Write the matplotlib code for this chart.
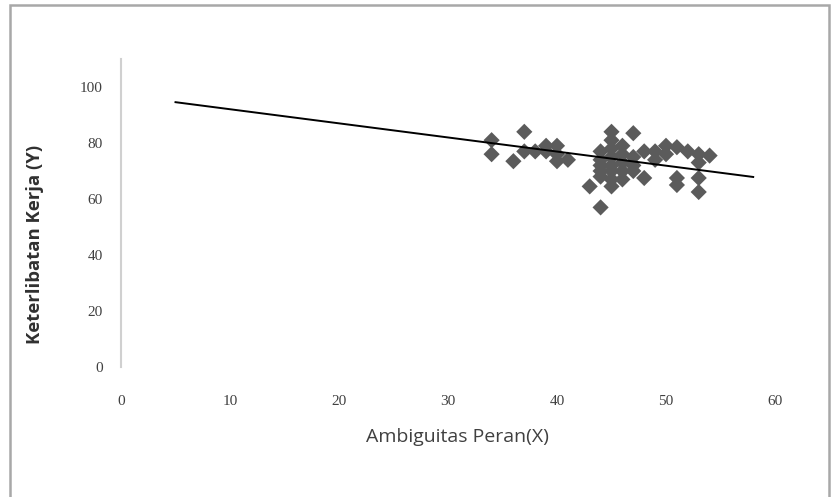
import matplotlib
matplotlib.use("Agg")
import matplotlib.pyplot as plt
import numpy as np
from matplotlib.patches import Rectangle

# Data: Ambiguitas Peran (X) vs Keterlibatan Kerja (Y)
x_values = [34, 34, 36, 37, 37, 38, 39, 39, 40, 40, 40, 41, 43,
            44, 44, 44, 44, 44, 44,
            45, 45, 45, 45, 45, 45, 45, 45,
            46, 46, 46, 46, 46,
            47, 47, 47, 47,
            48, 48, 49, 49, 50, 50,
            51, 51, 51, 52, 53, 53, 53, 53, 54]
y_values = [81, 76, 73.5, 84, 77, 77, 79, 77, 79, 76, 73.5, 74, 64.5,
            57, 77, 74, 72, 70, 68,
            84, 81, 78, 75, 72, 70, 67, 64.5,
            79, 76, 73, 70, 67,
            83.5, 75, 72, 70,
            77, 67.5, 77, 74, 79, 76,
            78.5, 67.5, 65, 77, 76, 73, 67.5, 62.5, 75.5]

# Linear trendline (as displayed)
trend_intercept = 97.1
trend_slope = -0.504
trend_x_range = [5, 58]

x_ticks = [0, 10, 20, 30, 40, 50, 60]
y_ticks = [0, 20, 40, 60, 80, 100]
x_label = "Ambiguitas Peran(X)"
y_label = "Keterlibatan Kerja (Y)"

fig = plt.figure(figsize=(8.31, 4.97), dpi=100)
ax = fig.add_axes([121/831, 1-367/497, (775-121)/831, (367-59)/497])

ax.scatter(x_values, y_values, marker="D", s=68, color="#5b5b5b",
           edgecolors="none", zorder=3)
tx = np.array(trend_x_range, dtype=float)
ax.plot(tx, trend_intercept + trend_slope*tx, color="black", lw=1.4, zorder=4)

ax.set_xlim(0, 60)
ax.set_ylim(0, 110)
ax.set_xticks(x_ticks)
ax.set_yticks(y_ticks)
for s in ["top", "right", "bottom"]:
    ax.spines[s].set_visible(False)
ax.spines["left"].set_color("#d0d0d0")
ax.spines["left"].set_linewidth(1.5)
ax.tick_params(axis="both", length=0, labelsize=11, labelcolor="#404040")
ax.tick_params(axis="y", pad=13)
ax.tick_params(axis="x", pad=20)
for lab in ax.get_xticklabels() + ax.get_yticklabels():
    lab.set_family("Liberation Serif")

fig.text(457/831, 1-437/497, x_label, ha="center", va="center",
         fontsize=14, family="Open Sans", color="#404040")
fig.text(35/831, 1-244/497, y_label, ha="center", va="center",
         rotation=90, fontsize=13.3, family="Open Sans", weight="bold",
         color="#303030")

fig.patches.append(Rectangle((10/831, -0.05), (829-10)/831, 1-5/497+0.05,
                             transform=fig.transFigure, fill=False,
                             edgecolor="#a8a8a8", lw=1.8))

fig.savefig("out.png", dpi=100)
